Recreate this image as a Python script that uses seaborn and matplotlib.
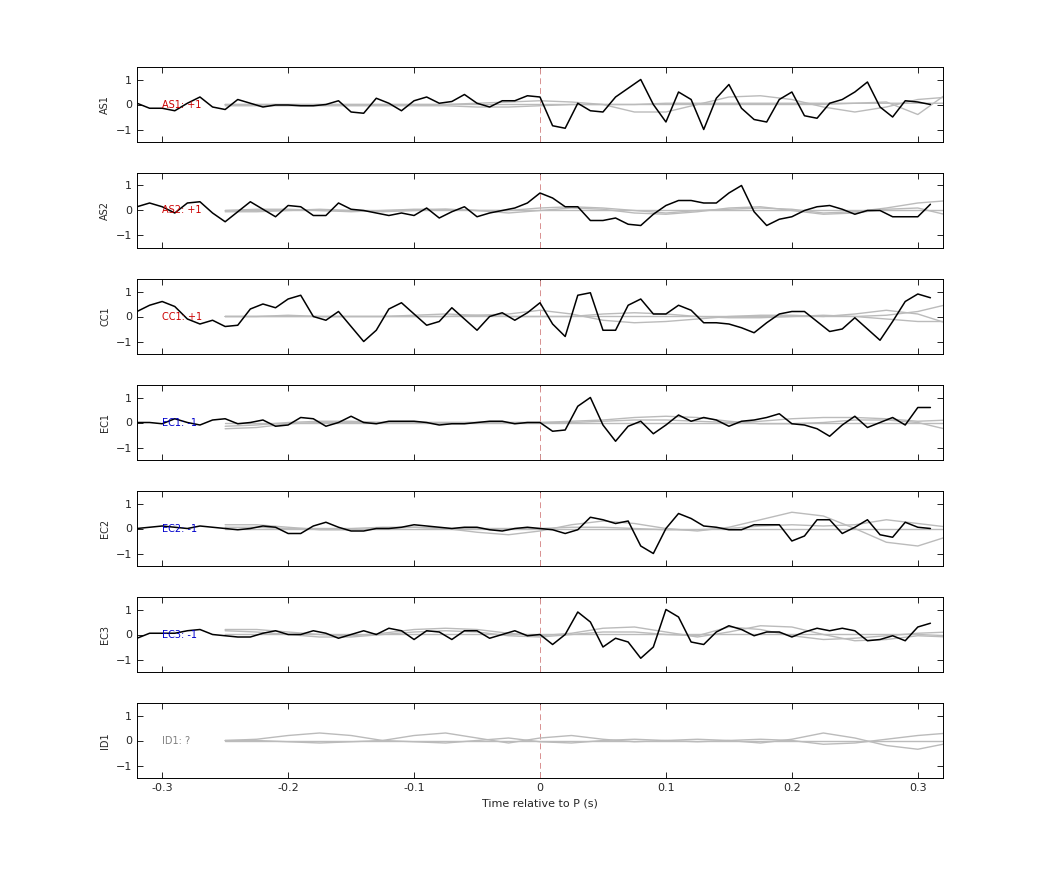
import numpy as np
import matplotlib
matplotlib.use("Agg")
import matplotlib.pyplot as plt
import seaborn as sns

sns.set_theme(style="white")
plt.rcParams['font.family'] = ['DejaVu Sans']

stations = ["AS1", "AS2", "CC1", "EC1", "EC2", "EC3", "ID1"]
labels = ["AS1: +1", "AS2: +1", "CC1: +1", "EC1: -1", "EC2: -1", "EC3: -1", "ID1: ?"]
label_colors = ["#cc0000", "#cc0000", "#cc0000", "#0000cc", "#0000cc", "#0000cc", "#808080"]

t_black = np.round(np.arange(-0.32, 0.315, 0.01), 2)
black = {
 "AS1": [0.05,-0.15,-0.15,-0.25,0.05,0.3,-0.1,-0.2,0.2,0.05,-0.1,-0.02,-0.02,-0.05,-0.05,0.0,0.15,-0.3,-0.35,0.25,0.05,-0.25,0.15,0.3,0.05,0.12,0.4,0.05,-0.1,0.15,0.15,0.35,0.3,-0.85,-0.95,0.05,-0.25,-0.3,0.3,0.65,1.0,0.0,-0.7,0.5,0.2,-1.0,0.25,0.8,-0.15,-0.6,-0.7,0.2,0.5,-0.45,-0.55,0.05,0.2,0.5,0.9,-0.1,-0.5,0.15,0.1,0.0],
 "AS2": [0.15,0.3,0.15,-0.1,0.3,0.35,-0.1,-0.45,-0.05,0.35,0.05,-0.25,0.2,0.15,-0.2,-0.2,0.3,0.05,0.0,-0.1,-0.2,-0.1,-0.2,0.1,-0.3,-0.05,0.15,-0.25,-0.1,0.0,0.1,0.3,0.7,0.5,0.15,0.15,-0.4,-0.4,-0.3,-0.55,-0.6,-0.15,0.2,0.4,0.4,0.3,0.3,0.7,1.0,-0.05,-0.6,-0.35,-0.25,0.0,0.15,0.2,0.05,-0.15,0.0,0.0,-0.25,-0.25,-0.25,0.25],
 "CC1": [0.2,0.45,0.6,0.4,-0.1,-0.3,-0.15,-0.4,-0.35,0.3,0.5,0.35,0.7,0.85,0.0,-0.15,0.2,-0.4,-1.0,-0.55,0.3,0.55,0.1,-0.35,-0.2,0.35,-0.1,-0.55,0.0,0.15,-0.15,0.15,0.55,-0.3,-0.8,0.85,0.95,-0.55,-0.55,0.45,0.7,0.1,0.1,0.45,0.25,-0.25,-0.25,-0.3,-0.45,-0.65,-0.25,0.1,0.2,0.2,-0.2,-0.6,-0.5,-0.05,-0.5,-0.95,-0.2,0.6,0.9,0.75],
 "EC1": [0.0,0.0,-0.05,0.15,0.0,-0.1,0.1,0.15,-0.05,0.0,0.1,-0.15,-0.1,0.2,0.15,-0.15,0.0,0.25,0.0,-0.05,0.05,0.05,0.05,0.0,-0.1,-0.05,-0.05,0.0,0.05,0.05,-0.05,0.0,0.0,-0.35,-0.3,0.65,1.0,-0.1,-0.75,-0.15,0.05,-0.45,-0.1,0.3,0.05,0.2,0.1,-0.15,0.05,0.1,0.2,0.35,-0.05,-0.1,-0.25,-0.55,-0.1,0.25,-0.2,0.0,0.2,-0.1,0.6,0.6],
 "EC2": [0.0,0.05,0.1,0.05,0.0,0.1,0.05,0.0,-0.05,0.0,0.1,0.05,-0.2,-0.2,0.1,0.25,0.05,-0.1,-0.1,0.0,0.0,0.05,0.15,0.1,0.05,0.0,0.05,0.05,-0.05,-0.1,0.0,0.05,0.0,-0.05,-0.2,-0.05,0.45,0.35,0.2,0.3,-0.7,-1.0,0.0,0.6,0.4,0.1,0.05,-0.05,-0.05,0.15,0.15,0.15,-0.5,-0.3,0.35,0.35,-0.2,0.05,0.35,-0.25,-0.35,0.25,0.05,0.0],
 "EC3": [-0.15,0.05,0.05,0.05,0.15,0.2,0.0,-0.05,-0.1,-0.1,0.05,0.15,0.0,0.0,0.15,0.05,-0.15,0.0,0.15,0.0,0.25,0.15,-0.2,0.15,0.1,-0.2,0.15,0.15,-0.15,0.0,0.15,-0.05,0.0,-0.4,0.0,0.9,0.5,-0.5,-0.15,-0.3,-0.95,-0.5,1.0,0.7,-0.3,-0.4,0.1,0.35,0.2,-0.05,0.1,0.1,-0.1,0.1,0.25,0.15,0.25,0.15,-0.25,-0.2,-0.05,-0.25,0.3,0.45],
}

t_gray = np.round(np.arange(-0.25, 0.326, 0.025), 3)
gray = {
 "AS1": [[0,0,0,0,0,0,0,0,0.05,0.1,0.15,0.1,0,-0.3,-0.3,0,0.3,0.35,0.2,-0.1,-0.3,-0.1,0.2,0.3],
         [0,0,0,0,0,0,0,0,0,0,0,0,0,0,0,0,0,0,0,0,0.05,0.1,-0.4,0.5],
         [-0.05,-0.05,-0.05,-0.05,-0.05,-0.05,-0.05,-0.05,-0.1,-0.1,-0.05,0,0,0,0.05,0.05,0.05,0.05,0.05,0.05,0.05,0.05,0.05,0.05]],
 "AS2": [[0,0.05,0.05,0,-0.05,0,0.05,0.05,0,0,0.1,0.15,0.1,0,-0.1,0,0.05,0.1,0.05,-0.1,-0.05,0.1,0.3,0.4],
         [-0.05,-0.05,0,0.05,0,-0.05,0,0.05,0,-0.1,0,0.1,0.05,-0.1,-0.15,-0.05,0.1,0.15,0,-0.15,-0.1,0.05,0.1,-0.2],
         [0,0,0,0,0,0,0,0,0,0,0,0,0,0,0,0,0,0,0,0,0,0,0,0]],
 "CC1": [[0,0,0,0,0,0,0,0,0.05,0.1,0.25,0.1,-0.15,-0.25,-0.2,-0.1,0,0.05,0.05,0,0.1,0.25,0.1,-0.3],
         [0,0,0.05,0,0,0,0.05,0.1,0.05,0,0,0,0.1,0.15,0.1,0,-0.05,-0.05,0,0.05,0,-0.1,-0.2,-0.2],
         [0,0,0,0,0,0,0,0,0,0,0,0,0,0,0,0,0,0,0,0,0,0.05,0.2,0.5]],
 "EC1": [[-0.25,-0.2,-0.05,0,0,0,0,0,0,0,0,0.05,0.1,0.2,0.25,0.2,0.05,-0.05,-0.05,0,0.1,0.1,0,-0.3],
         [-0.15,-0.1,0,0.05,0.05,0,0,0,0,0,0,0,0.05,0.1,0.1,0.05,0,0.05,0.15,0.2,0.2,0.15,0.05,0.1],
         [0,0,0,0,0,0,0,0,0,0,0,0,0,0,0,0,0,0,0,0,0,0,0,0]],
 "EC2": [[0.15,0.15,0.05,-0.05,-0.05,0,0.05,0,-0.15,-0.25,-0.1,0.15,0.3,0.2,0,-0.1,0.05,0.35,0.65,0.5,0,-0.55,-0.7,-0.3],
         [0.05,0.05,0,0,0,0.05,0.05,0,0,0,0,0.05,0.05,0,-0.05,-0.05,0,0.1,0.15,0.1,0.15,0.35,0.2,0.05],
         [0,0,0,0,0,0,0,0,0,0,0,0,0,0,0,0,0,0,0,0,0,0,0,0]],
 "EC3": [[0.2,0.2,0.1,0,-0.05,0.05,0.2,0.25,0.2,0.05,-0.05,0.05,0.25,0.3,0.1,-0.1,0.1,0.35,0.3,0,-0.25,-0.2,-0.05,-0.1],
         [0.15,0.1,0,-0.1,-0.1,0,0.1,0.15,0.1,-0.05,-0.1,0,0.1,0.1,0,-0.05,0.3,0.2,-0.05,-0.2,-0.15,-0.05,0.05,0.1],
         [0,0,0,0,0,0,0,0,0,0,0,0,0,0,0,0,0,0,0,0,0,0,0,-0.05]],
 "ID1": [[0,0.05,0.2,0.3,0.2,0,0.2,0.3,0.1,-0.1,0.1,0.2,0.05,-0.05,0,0.05,0,-0.1,0.05,0.3,0.1,-0.2,-0.35,-0.1],
         [0,0,-0.05,-0.1,-0.05,0,-0.05,-0.1,0,0.1,-0.05,-0.1,0,0.05,0,-0.05,0,0.05,0,-0.15,-0.1,0.05,0.2,0.3],
         [0,0,0,0,0,0,0,0,0,0,0,0,0,0,0,0,0,0,0,0,0,0,0,0]],
}

fig = plt.figure(figsize=(10.42, 8.75), dpi=100)
W, H = 1042, 875
left, right = 137 / W, 943 / W
for i, st in enumerate(stations):
    top = 67 + i * 106
    ax = fig.add_axes([left, 1 - (top + 75) / H, right - left, 75 / H])
    ax.axvline(0, color="#d89090", lw=0.7, ls=(0, (6, 4)), zorder=1)
    for g in gray[st]:
        sns.lineplot(x=t_gray, y=g, ax=ax, color="#bbbbbb", lw=1.0, zorder=2)
    if st in black:
        sns.lineplot(x=t_black, y=black[st], ax=ax, color="black", lw=1.1, zorder=3)
    ax.text(-0.30, 0, labels[i], color=label_colors[i], fontsize=7, va="center", ha="left", zorder=4)
    ax.set_xlim(-0.32, 0.32)
    ax.set_ylim(-1.5, 1.5)
    ax.set_yticks([-1, 0, 1])
    ax.set_xticks([-0.3, -0.2, -0.1, 0, 0.1, 0.2, 0.3])
    ax.tick_params(direction="in", length=4, width=0.6, labelsize=8, top=True, right=True,
                   left=True, bottom=True, color="black")
    ax.set_ylabel(st, fontsize=7)
    for s in ax.spines.values():
        s.set_color("black"); s.set_linewidth(0.7)
    if i < len(stations) - 1:
        ax.set_xticklabels([])
    else:
        ax.set_xticklabels(["-0.3", "-0.2", "-0.1", "0", "0.1", "0.2", "0.3"])
        ax.set_xlabel("Time relative to P (s)", fontsize=8)

fig.savefig("out.png", dpi=100)
